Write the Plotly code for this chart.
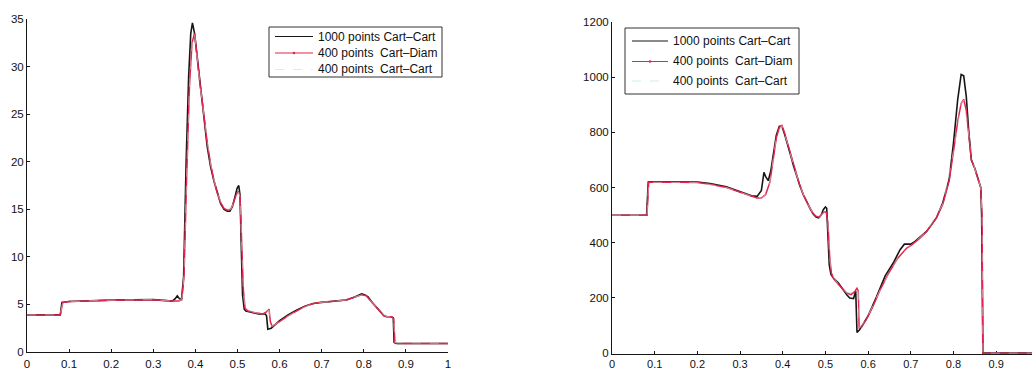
import plotly.graph_objects as go

# ---------------- left panel ----------------
left_x_1000 = [0, 0.079, 0.083, 0.10, 0.2, 0.3, 0.345, 0.352, 0.357, 0.362, 0.367, 0.372,
               0.378, 0.384, 0.389, 0.393, 0.398, 0.405, 0.412, 0.42, 0.428, 0.436, 0.444,
               0.452, 0.46, 0.468, 0.476, 0.482, 0.488, 0.494, 0.499, 0.503, 0.506, 0.509,
               0.512, 0.516, 0.52, 0.53, 0.54, 0.55, 0.56, 0.566, 0.569, 0.572, 0.58, 0.59,
               0.60, 0.62, 0.64, 0.66, 0.68, 0.70, 0.72, 0.74, 0.76, 0.78, 0.795, 0.803,
               0.81, 0.82, 0.83, 0.84, 0.848, 0.855, 0.865, 0.870, 0.872, 0.878, 1.0]
left_y_1000 = [3.9, 3.9, 5.2, 5.3, 5.45, 5.5, 5.35, 5.6, 5.9, 5.6, 5.5, 7.9,
               20, 29, 33.5, 34.6, 33.5, 30.5, 27.8, 24.8, 21.6, 19.5, 18.0,
               16.7, 15.6, 15.0, 14.8, 14.8, 15.3, 16.3, 17.2, 17.5, 16.5, 11,
               6, 4.5, 4.3, 4.2, 4.1, 4.0, 4.0, 4.0, 3.8, 2.4, 2.5, 2.9,
               3.3, 3.9, 4.4, 4.8, 5.1, 5.2, 5.3, 5.35, 5.5, 5.8, 6.1, 6.0,
               5.8, 5.2, 4.7, 4.2, 3.8, 3.7, 3.7, 3.6, 1.0, 0.9, 0.9]

left_x_diam = [0, 0.079, 0.085, 0.10, 0.2, 0.3, 0.345, 0.362, 0.368, 0.373, 0.379, 0.386,
               0.392, 0.398, 0.403, 0.41, 0.42, 0.428, 0.436, 0.444, 0.452, 0.46, 0.468,
               0.476, 0.484, 0.49, 0.496, 0.502, 0.506, 0.51, 0.514, 0.518, 0.525, 0.54,
               0.55, 0.56, 0.568, 0.575, 0.578, 0.582, 0.59, 0.60, 0.62, 0.64, 0.66, 0.68,
               0.70, 0.72, 0.74, 0.76, 0.78, 0.795, 0.805, 0.812, 0.82, 0.83, 0.84, 0.848,
               0.855, 0.866, 0.871, 0.874, 0.88, 1.0]
left_y_diam = [3.9, 3.9, 5.2, 5.3, 5.45, 5.5, 5.35, 5.35, 5.6, 8, 18, 28,
               32.5, 33.5, 31.5, 28.5, 25, 22, 19.8, 18.0, 16.7, 15.7, 15.1,
               14.9, 15.0, 15.6, 16.4, 16.9, 16.4, 12, 6.5, 4.6, 4.3, 4.15,
               4.05, 4.0, 4.2, 4.5, 3.2, 2.7, 2.9, 3.2, 3.8, 4.3, 4.8, 5.1,
               5.25, 5.3, 5.35, 5.5, 5.75, 6.0, 5.95, 5.6, 5.2, 4.7, 4.2, 3.8,
               3.7, 3.7, 3.5, 1.0, 0.9, 0.9]

left_x_400 = [0, 0.079, 0.085, 0.10, 0.2, 0.3, 0.345, 0.362, 0.368, 0.373, 0.379, 0.386,
              0.392, 0.398, 0.403, 0.41, 0.42, 0.436, 0.452, 0.468, 0.484, 0.496, 0.502,
              0.506, 0.51, 0.514, 0.518, 0.54, 0.56, 0.568, 0.575, 0.578, 0.582, 0.60,
              0.64, 0.68, 0.72, 0.76, 0.795, 0.805, 0.82, 0.84, 0.855, 0.866, 0.871,
              0.874, 1.0]
left_y_400 = [3.9, 3.9, 5.2, 5.3, 5.45, 5.5, 5.35, 5.35, 5.6, 8, 18, 28,
              32.4, 33.4, 31.4, 28.4, 25, 19.8, 16.7, 15.1, 15.0, 16.3, 16.8,
              16.3, 12, 6.5, 4.6, 4.15, 4.0, 4.2, 4.4, 3.2, 2.7, 3.2,
              4.3, 5.1, 5.3, 5.5, 6.0, 5.9, 5.2, 4.2, 3.7, 3.7, 3.5,
              1.0, 0.9]

# ---------------- right panel ----------------
right_x_1000 = [0, 0.081, 0.085, 0.1, 0.2, 0.23, 0.268, 0.30, 0.327, 0.34, 0.35, 0.356,
                0.36, 0.366, 0.372, 0.378, 0.385, 0.392, 0.398, 0.404, 0.41, 0.418, 0.425,
                0.433, 0.44, 0.448, 0.456, 0.464, 0.471, 0.478, 0.484, 0.49, 0.495, 0.5,
                0.503, 0.506, 0.509, 0.513, 0.52, 0.53, 0.54, 0.55, 0.557, 0.566, 0.569,
                0.571, 0.574, 0.58, 0.59, 0.6, 0.62, 0.64, 0.66, 0.675, 0.685, 0.70, 0.71,
                0.737, 0.76, 0.775, 0.79, 0.80, 0.81, 0.818, 0.824, 0.83, 0.836, 0.842,
                0.85, 0.858, 0.864, 0.866, 0.869, 1.0]
right_y_1000 = [500, 500, 620, 621, 620, 615, 603, 585, 570, 568, 590, 655,
                640, 625, 660, 720, 790, 822, 822, 795, 765, 720, 680,
                640, 608, 575, 548, 525, 505, 493, 490, 500, 520, 530,
                525, 420, 320, 285, 270, 255, 232, 212, 200, 198, 215,
                225, 75, 85, 110, 135, 205, 280, 330, 375, 395, 395, 405,
                441, 490, 545, 630, 760, 920, 1010, 1005, 930, 800, 700,
                670, 625, 600, 500, 0, 0]

right_x_diam = [0, 0.082, 0.086, 0.1, 0.2, 0.23, 0.268, 0.30, 0.327, 0.34, 0.35, 0.36,
                0.37, 0.378, 0.385, 0.392, 0.398, 0.404, 0.41, 0.418, 0.425, 0.433, 0.44,
                0.448, 0.456, 0.464, 0.471, 0.478, 0.486, 0.492, 0.498, 0.502, 0.506, 0.51,
                0.514, 0.52, 0.53, 0.54, 0.55, 0.56, 0.568, 0.574, 0.577, 0.579, 0.585,
                0.595, 0.61, 0.63, 0.65, 0.67, 0.69, 0.70, 0.72, 0.737, 0.76, 0.775, 0.79,
                0.80, 0.81, 0.818, 0.824, 0.83, 0.836, 0.842, 0.85, 0.858, 0.864, 0.867,
                0.869, 1.0]
right_y_diam = [500, 500, 618, 620, 618, 612, 600, 583, 568, 562, 562, 575,
                620, 700, 780, 818, 825, 800, 768, 722, 682, 640, 608,
                575, 548, 525, 507, 496, 493, 505, 512, 510, 470, 350,
                290, 268, 250, 232, 218, 212, 222, 235, 225, 92, 95,
                120, 165, 235, 295, 345, 380, 390, 415, 441, 490, 540, 625,
                730, 840, 905, 920, 880, 790, 700, 668, 625, 600, 500,
                0, 0]

right_x_400 = [0, 0.082, 0.086, 0.2, 0.268, 0.327, 0.35, 0.36, 0.37, 0.385, 0.398, 0.41,
               0.425, 0.44, 0.456, 0.471, 0.486, 0.498, 0.506, 0.51, 0.514, 0.53, 0.55,
               0.568, 0.574, 0.577, 0.579, 0.595, 0.63, 0.67, 0.70, 0.737, 0.775, 0.80,
               0.818, 0.824, 0.836, 0.85, 0.864, 0.867, 0.869, 1.0]
right_y_400 = [500, 500, 618, 618, 600, 568, 562, 575, 620, 780, 824, 766,
               682, 608, 548, 507, 493, 511, 470, 350, 290, 250, 218,
               222, 234, 224, 92, 120, 235, 345, 390, 441, 540, 730,
               905, 918, 790, 668, 600, 500, 0, 0]

legend_labels = ["1000 points Cart\u2013Cart", "400 points  Cart\u2013Diam", "400 points  Cart\u2013Cart"]

BLACK = "#161616"
RED = "#e2264f"
CYAN = "rgba(170,232,215,0.55)"
FONT = "Liberation Sans, Arial, sans-serif"

fig = go.Figure()

panels = [
    ("x", "y", left_x_1000, left_y_1000, left_x_diam, left_y_diam, left_x_400, left_y_400),
    ("x2", "y2", right_x_1000, right_y_1000, right_x_diam, right_y_diam, right_x_400, right_y_400),
]
for xa, ya, xb, yb, xr, yr, xc, yc in panels:
    fig.add_trace(go.Scatter(x=xb, y=yb, xaxis=xa, yaxis=ya, mode="lines",
                             line=dict(color=BLACK, width=1.6), showlegend=False))
    fig.add_trace(go.Scatter(x=xr, y=yr, xaxis=xa, yaxis=ya, mode="lines",
                             line=dict(color=RED, width=1.5), showlegend=False))
    fig.add_trace(go.Scatter(x=xc, y=yc, xaxis=xa, yaxis=ya, mode="lines",
                             line=dict(color=CYAN, width=1, dash="dash"), showlegend=False))

W, H = 1032, 370


def px(v):
    return v / W


def py(v):
    return 1 - v / H


def axis_style(size):
    return dict(showline=True, linecolor=BLACK, linewidth=1, ticks="inside", ticklen=3,
                tickcolor=BLACK, showgrid=False, zeroline=False, mirror=False,
                layer="below traces", automargin=False,
                tickfont=dict(family=FONT, size=size, color="#111"))


fig.update_layout(
    width=W, height=H,
    margin=dict(l=0, r=0, t=0, b=0),
    paper_bgcolor="white", plot_bgcolor="white",
    showlegend=False,
    xaxis=dict(domain=[px(27), px(448)], range=[0, 1], dtick=0.1, anchor="y",
               ticklabelstandoff=1, **axis_style(11.5)),
    yaxis=dict(domain=[1 - 352 / H, 1 - 19 / H], range=[0, 35], dtick=5, anchor="x",
               **axis_style(11.5)),
    xaxis2=dict(domain=[px(612), 1.0], range=[0, 0.984], dtick=0.1, anchor="y2",
                ticklabelstandoff=0, **axis_style(11)),
    yaxis2=dict(domain=[1 - 354 / H, 1 - 22 / H], range=[-3, 1200], dtick=200, anchor="x2",
                **axis_style(11.5)),
)

# legend boxes drawn in paper coordinates
legend_boxes = [
    # box x0, x1, y0, y1, sample x0, x1, row centres
    (269, 442, 27, 77, 275, 313, [36.5, 53, 69.5]),
    (625, 799, 28, 94, 632, 668, [41, 61.5, 81]),
]
styles = [dict(color=BLACK, width=1.2), dict(color=RED, width=1.2), dict(color=CYAN, width=1, dash="dash")]
for bx0, bx1, by0, by1, sx0, sx1, rows in legend_boxes:
    fig.add_shape(type="rect", xref="paper", yref="paper", x0=px(bx0), x1=px(bx1),
                  y0=py(by1), y1=py(by0), line=dict(color="#333", width=1), fillcolor="white",
                  layer="above")
    for label, st, ry in zip(legend_labels, styles, rows):
        fig.add_shape(type="line", xref="paper", yref="paper", x0=px(sx0), x1=px(sx1),
                      y0=py(ry), y1=py(ry), line=st, layer="above")
        fig.add_annotation(x=px(sx1 + 3), y=py(ry), xref="paper", yref="paper", text=label,
                           showarrow=False, xanchor="left", yanchor="middle",
                           font=dict(family=FONT, size=12, color="#111"))
    cx = (sx0 + sx1) / 2
    fig.add_shape(type="circle", xref="paper", yref="paper", x0=px(cx - 1.3), x1=px(cx + 1.3),
                  y0=py(rows[1] + 1.3), y1=py(rows[1] - 1.3), fillcolor=RED,
                  line=dict(color=RED, width=0), layer="above")

fig.write_html("out.html")
